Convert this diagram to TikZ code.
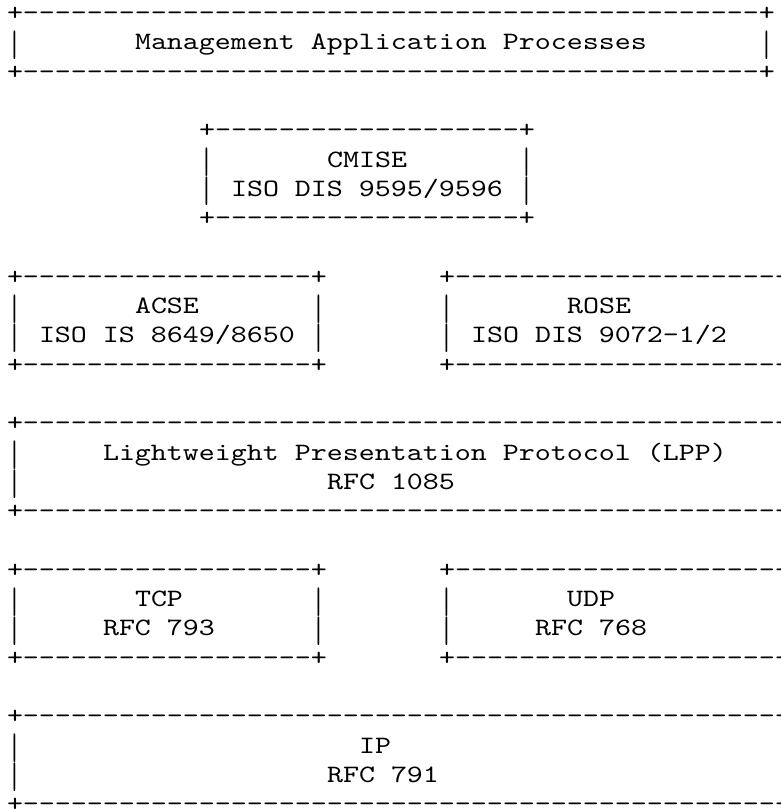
\documentclass[tikz,border=0pt]{standalone}
\usepackage{graphicx}
\usepackage{fontspec}
\setmonofont{lmmono10-regular.otf}[FakeStretch=1.219]
\ExplSyntaxOn
\NewDocumentCommand\rep{mm}{\prg_replicate:nn{#1}{#2}}
\ExplSyntaxOff
\newcommand\seg[4]{\node[txt] (#1) at ({7+16*#2},{20.5+29.3*#3}) {#4};}
\newcommand\vb{\raisebox{-6.5pt}{\scalebox{0.8}[1.48]{|}}}
\begin{document}
\begin{tikzpicture}[x=1pt,y=-1pt,
  txt/.style={inner sep=0pt,outer sep=0pt,anchor=base west,text=black,
    font=\ttfamily\fontsize{25pt}{29.3pt}\selectfont}]
\fill[white] (0,0) rectangle (781,809);
\useasboundingbox (0,0) rectangle (781,809);
% Management Application Processes
\seg{a0}{0}{0}{+\rep{46}{-}+}
\seg{a1l}{0.1}{1}{\vb}
\seg{a1t}{8}{1}{Management Application Processes}
\seg{a1r}{47.1}{1}{\vb}
\seg{a2}{0}{2}{+\rep{46}{-}+}
% CMISE
\seg{b4}{12}{4}{+\rep{19}{-}+}
\seg{b5l}{12.1}{5}{\vb}
\seg{b5t}{20}{5}{CMISE}
\seg{b5r}{32.1}{5}{\vb}
\seg{b6l}{12.1}{6}{\vb}
\seg{b6t}{14}{6}{ISO DIS 9595/9596}
\seg{b6r}{32.1}{6}{\vb}
\seg{b7}{12}{7}{+\rep{19}{-}+}
% ACSE / ROSE
\seg{c9a}{0}{9}{+\rep{18}{-}+}
\seg{c9b}{27}{9}{+\rep{26}{-}}
\seg{c10l}{0.1}{10}{\vb}
\seg{c10t}{8}{10}{ACSE}
\seg{c10m}{19.1}{10}{\vb}
\seg{c10n}{27.1}{10}{\vb}
\seg{c10u}{35}{10}{ROSE}
\seg{c11l}{0.1}{11}{\vb}
\seg{c11t}{2}{11}{ISO IS 8649/8650}
\seg{c11m}{19.1}{11}{\vb}
\seg{c11n}{27.1}{11}{\vb}
\seg{c11u}{29}{11}{ISO DIS 9072-1/2}
\seg{c12a}{0}{12}{+\rep{18}{-}+}
\seg{c12b}{27}{12}{+\rep{26}{-}}
% LPP
\seg{d14}{0}{14}{+\rep{53}{-}}
\seg{d15l}{0.1}{15}{\vb}
\seg{d15t}{6}{15}{Lightweight Presentation Protocol (LPP)}
\seg{d16l}{0.1}{16}{\vb}
\seg{d16t}{20}{16}{RFC 1085}
\seg{d17}{0}{17}{+\rep{53}{-}}
% TCP / UDP
\seg{e19a}{0}{19}{+\rep{18}{-}+}
\seg{e19b}{27}{19}{+\rep{26}{-}}
\seg{e20l}{0.1}{20}{\vb}
\seg{e20t}{8}{20}{TCP}
\seg{e20m}{19.1}{20}{\vb}
\seg{e20n}{27.1}{20}{\vb}
\seg{e20u}{35}{20}{UDP}
\seg{e21l}{0.1}{21}{\vb}
\seg{e21t}{6}{21}{RFC 793}
\seg{e21m}{19.1}{21}{\vb}
\seg{e21n}{27.1}{21}{\vb}
\seg{e21u}{33}{21}{RFC 768}
\seg{e22a}{0}{22}{+\rep{18}{-}+}
\seg{e22b}{27}{22}{+\rep{26}{-}}
% IP
\seg{f24}{0}{24}{+\rep{53}{-}}
\seg{f25l}{0.1}{25}{\vb}
\seg{f25t}{22}{25}{IP}
\seg{f26l}{0.1}{26}{\vb}
\seg{f26t}{20}{26}{RFC 791}
\seg{f27}{0}{27}{+\rep{53}{-}}
\end{tikzpicture}
\end{document}
